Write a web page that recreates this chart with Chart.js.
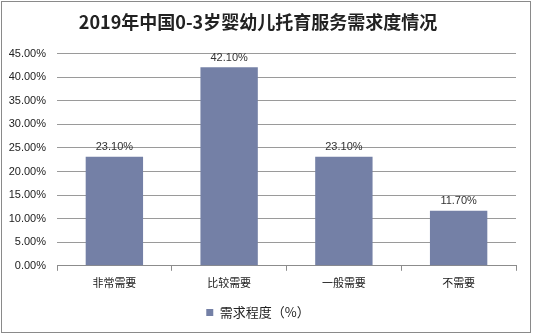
<!DOCTYPE html>
<html>
<head>
<meta charset="utf-8">
<script src="https://cdn.jsdelivr.net/npm/chart.js@4/dist/chart.umd.min.js"></script>
<style>
html,body{margin:0;padding:0;background:#fff;}
#wrap{width:534px;height:336px;position:relative;}
</style>
</head>
<body>
<div id="wrap"><canvas id="c" width="534" height="336"></canvas></div>
<script>
const categories = ['非常需要', '比较需要', '一般需要', '不需要'];
const demandValues = [23.1, 42.1, 23.1, 11.7];
const yTicks = [0, 5, 10, 15, 20, 25, 30, 35, 40, 45];
const seriesName = '需求程度（%）';
const chartTitle = '2019年中国0-3岁婴幼儿托育服务需求度情况';

const FONT = "'Liberation Sans', Arial, 'Noto Sans CJK SC', sans-serif";

const borderPlugin = {
  id: 'outerBorder',
  beforeDraw(chart) {
    const ctx = chart.ctx;
    ctx.save();
    ctx.fillStyle = '#fff';
    ctx.fillRect(0, 0, chart.width, chart.height);
    ctx.strokeStyle = '#8a8a8a';
    ctx.lineWidth = 1;
    ctx.strokeRect(1.5, 1.5, 529, 331);
    ctx.restore();
  }
};

const labelPlugin = {
  id: 'valueLabels',
  afterDatasetsDraw(chart) {
    const ctx = chart.ctx;
    const meta = chart.getDatasetMeta(0);
    ctx.save();
    ctx.font = "11px " + FONT;
    ctx.fillStyle = '#333';
    ctx.textAlign = 'center';
    ctx.textBaseline = 'bottom';
    meta.data.forEach((bar, i) => {
      ctx.fillText(demandValues[i].toFixed(2) + '%', bar.x, bar.y - 4);
    });
    ctx.restore();
  }
};

new Chart(document.getElementById('c'), {
  type: 'bar',
  data: {
    labels: categories,
    datasets: [{
      label: seriesName,
      data: demandValues,
      backgroundColor: '#7480a6',
      borderWidth: 0,
      barPercentage: 0.5,
      categoryPercentage: 1.0
    }]
  },
  options: {
    responsive: false,
    animation: false,
    devicePixelRatio: 1,
    layout: { padding: { left: 0, right: 18, top: 5, bottom: 7 } },
    plugins: {
      title: {
        display: true,
        text: chartTitle,
        color: '#222',
        font: { family: "'Noto Sans CJK SC', sans-serif", size: 18, weight: 'bold' },
        padding: { top: 6, bottom: 21 }
      },
      legend: {
        display: true,
        position: 'bottom',
        labels: {
          boxWidth: 7,
          boxHeight: 7,
          color: '#222',
          font: { family: "'Noto Sans CJK SC', sans-serif", size: 13 },
          padding: 14
        }
      },
      tooltip: { enabled: false }
    },
    scales: {
      x: {
        afterFit(scale) { scale.height -= 2; },
        grid: {
          display: true,
          drawOnChartArea: false,
          drawTicks: true,
          tickLength: 5,
          color: '#8c8c8c',
          offset: true
        },
        border: { display: true, color: '#8c8c8c' },
        ticks: {
          color: '#222',
          font: { family: "'Noto Sans CJK SC', sans-serif", size: 11 },
          padding: 5
        }
      },
      y: {
        min: 0,
        max: 45,
        afterBuildTicks(scale) { scale.ticks = yTicks.map(v => ({ value: v })); },
        afterFit(scale) { scale.width = 57; },
        grid: { color: '#9a9a9a', drawTicks: false },
        border: { display: false },
        ticks: {
          color: '#222',
          font: { family: FONT, size: 11 },
          padding: 11,
          callback: v => v.toFixed(2) + '%'
        }
      }
    }
  },
  plugins: [borderPlugin, labelPlugin]
});
</script>
</body>
</html>
